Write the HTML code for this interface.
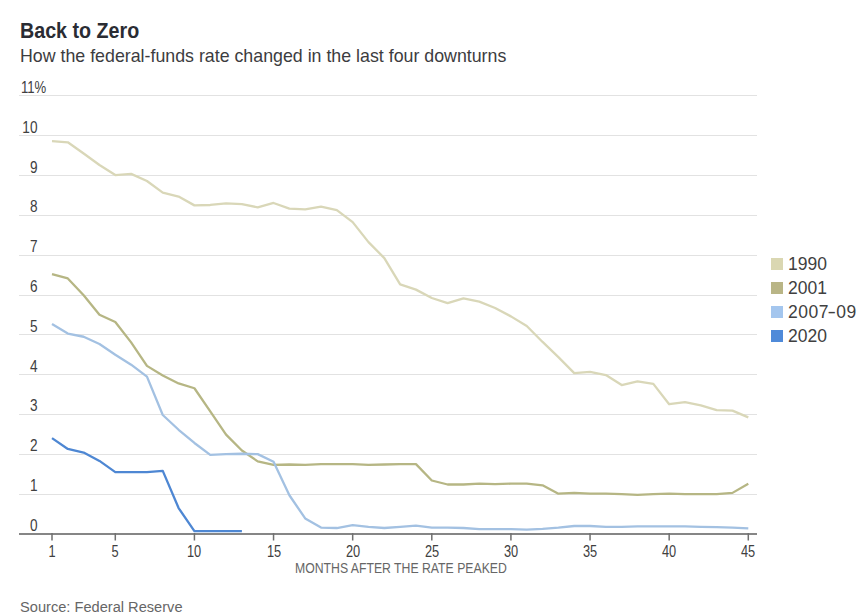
<!DOCTYPE html>
<html><head><meta charset="utf-8">
<style>
html,body{margin:0;padding:0;background:#fff;}
body{width:868px;height:613px;position:relative;overflow:hidden;font-family:"Liberation Sans",sans-serif;}
.t{position:absolute;white-space:nowrap;}
#title{left:20px;top:18.5px;font-size:21.5px;font-weight:bold;color:#2a2c33;transform:scaleX(0.915);transform-origin:0 0;}
#sub{left:20px;top:46px;font-size:17.8px;color:#3c3c40;transform-origin:0 0;}
.yl{position:absolute;left:0px;width:37.5px;text-align:right;font-size:16px;color:#404040;line-height:17px;transform:scaleX(0.85);transform-origin:37.5px 0;}
.pc{position:absolute;left:37.5px;top:0;display:inline-block;transform:scaleX(0.75);transform-origin:0 0;}
.xl{position:absolute;top:542.5px;width:60px;text-align:center;font-size:16px;color:#404040;line-height:17px;transform:scaleX(0.8);}
#mlab{left:295px;top:558.5px;font-size:15.5px;color:#666;transform-origin:0 0;transform:scaleX(0.79);}
#src{left:20px;top:597.5px;font-size:15.4px;color:#666;transform-origin:0 0;transform:scaleX(0.95);}
.lg{position:absolute;left:771px;width:12px;height:12px;}
.lt{position:absolute;left:788px;font-size:17.5px;color:#404040;line-height:20px;}
svg{position:absolute;left:0;top:0;}
</style></head><body>
<svg width="868" height="613" viewBox="0 0 868 613">
<rect x="19" y="494" width="738" height="1" fill="#e2e2e2"/><rect x="19" y="454" width="738" height="1" fill="#e2e2e2"/><rect x="19" y="414" width="738" height="1" fill="#e2e2e2"/><rect x="19" y="374" width="738" height="1" fill="#e2e2e2"/><rect x="19" y="334" width="738" height="1" fill="#e2e2e2"/><rect x="19" y="295" width="738" height="1" fill="#e2e2e2"/><rect x="19" y="255" width="738" height="1" fill="#e2e2e2"/><rect x="19" y="215" width="738" height="1" fill="#e2e2e2"/><rect x="19" y="175" width="738" height="1" fill="#e2e2e2"/><rect x="19" y="135" width="738" height="1" fill="#e2e2e2"/><rect x="19" y="95" width="738" height="1" fill="#e2e2e2"/>
<rect x="19" y="533" width="738" height="2" fill="#868686"/>
<rect x="51.25" y="533" width="1.5" height="7.5" fill="#707070"/><rect x="114.55" y="533" width="1.5" height="7.5" fill="#707070"/><rect x="193.67" y="533" width="1.5" height="7.5" fill="#707070"/><rect x="272.80" y="533" width="1.5" height="7.5" fill="#707070"/><rect x="351.93" y="533" width="1.5" height="7.5" fill="#707070"/><rect x="431.05" y="533" width="1.5" height="7.5" fill="#707070"/><rect x="510.17" y="533" width="1.5" height="7.5" fill="#707070"/><rect x="589.30" y="533" width="1.5" height="7.5" fill="#707070"/><rect x="668.42" y="533" width="1.5" height="7.5" fill="#707070"/><rect x="747.55" y="533" width="1.5" height="7.5" fill="#707070"/>
<g fill="none" stroke-width="2.3" stroke-linejoin="round" stroke-linecap="butt">
<polyline stroke="#d9d7b8" points="52.00,141.09 67.83,142.29 83.65,153.47 99.47,165.05 115.30,175.03 131.12,173.83 146.95,181.02 162.77,192.60 178.60,196.59 194.42,205.38 210.25,204.98 226.07,203.38 241.90,204.18 257.73,207.37 273.55,202.98 289.38,208.57 305.20,209.37 321.02,206.57 336.85,210.17 352.68,222.15 368.50,242.11 384.32,258.08 400.15,284.44 415.97,289.63 431.80,298.01 447.62,303.20 463.45,298.41 479.27,301.61 495.10,308.00 510.92,316.38 526.75,325.96 542.58,341.94 558.40,357.11 574.23,373.08 590.05,371.88 605.88,375.08 621.70,385.06 637.52,381.47 653.35,383.86 669.17,404.23 685.00,402.23 700.82,405.43 716.65,410.22 732.48,410.62 748.30,417.40"/>
<polyline stroke="#b6b684" points="52.00,274.06 67.83,278.45 83.65,295.22 99.47,314.78 115.30,321.97 131.12,342.34 146.95,365.89 162.77,375.48 178.60,383.46 194.42,388.26 210.25,411.41 226.07,434.57 241.90,450.55 257.73,461.33 273.55,464.92 289.38,464.52 305.20,464.92 321.02,464.12 336.85,464.12 352.68,464.12 368.50,464.92 384.32,464.52 400.15,464.12 415.97,464.12 431.80,480.49 447.62,484.49 463.45,484.49 479.27,483.69 495.10,484.09 510.92,483.69 526.75,483.69 542.58,485.29 558.40,493.67 574.23,492.87 590.05,493.67 605.88,493.67 621.70,494.07 637.52,494.87 653.35,494.07 669.17,493.67 685.00,494.07 700.82,494.07 716.65,494.07 732.48,492.87 748.30,483.69"/>
<polyline stroke="#a3c1e2" points="52.00,323.97 67.83,333.55 83.65,336.75 99.47,343.93 115.30,354.71 131.12,364.70 146.95,376.68 162.77,415.01 178.60,429.78 194.42,442.96 210.25,454.94 226.07,454.14 241.90,453.74 257.73,454.14 273.55,461.73 289.38,495.27 305.20,518.43 321.02,527.61 336.85,528.01 352.68,525.22 368.50,526.81 384.32,528.01 400.15,526.81 415.97,525.61 431.80,527.61 447.62,527.61 463.45,528.01 479.27,529.21 495.10,529.21 510.92,529.21 526.75,529.61 542.58,528.81 558.40,527.61 574.23,526.01 590.05,526.01 605.88,526.81 621.70,526.81 637.52,526.41 653.35,526.41 669.17,526.41 685.00,526.41 700.82,526.81 716.65,527.21 732.48,527.61 748.30,528.41"/>
<polyline stroke="#4e87d3" points="52.00,438.17 67.83,448.95 83.65,452.54 99.47,460.93 115.30,472.11 131.12,472.11 146.95,472.11 162.77,470.91 178.60,508.05 194.42,531.20 210.25,531.20 226.07,531.20 241.90,531.20"/>
</g>
</svg>
<div class="t" id="title">Back to Zero</div>
<div class="t" id="sub">How the federal-funds rate changed in the last four downturns</div>
<div class="yl" style="top:516.7px">0</div><div class="yl" style="top:476.9px">1</div><div class="yl" style="top:437.1px">2</div><div class="yl" style="top:397.3px">3</div><div class="yl" style="top:357.5px">4</div><div class="yl" style="top:317.8px">5</div><div class="yl" style="top:278.0px">6</div><div class="yl" style="top:238.2px">7</div><div class="yl" style="top:198.4px">8</div><div class="yl" style="top:158.6px">9</div><div class="yl" style="top:118.8px">10</div><div class="yl" style="top:79.0px;left:21px;width:auto;text-align:left;transform:scaleX(0.82);transform-origin:0 0;">11%</div>
<div class="xl" style="left:22.0px">1</div><div class="xl" style="left:85.3px">5</div><div class="xl" style="left:164.4px">10</div><div class="xl" style="left:243.5px">15</div><div class="xl" style="left:322.7px">20</div><div class="xl" style="left:401.8px">25</div><div class="xl" style="left:480.9px">30</div><div class="xl" style="left:560.0px">35</div><div class="xl" style="left:639.2px">40</div><div class="xl" style="left:718.3px">45</div>
<div class="t" id="mlab">MONTHS AFTER THE RATE PEAKED</div>
<div class="t" id="src">Source: Federal Reserve</div>
<div class="lg" style="top:258px;background:#dad7b2"></div>
<div class="lg" style="top:282px;background:#b9b586"></div>
<div class="lg" style="top:306px;background:#a4c6ee"></div>
<div class="lg" style="top:330px;background:#4f8ad9"></div>
<div class="lt" style="top:254px">1990</div>
<div class="lt" style="top:278px">2001</div>
<div class="lt" style="top:302px;letter-spacing:0.5px">2007<span style="display:inline-block;transform:scaleX(1.45);margin:0 0.5px">-</span>09</div>
<div class="lt" style="top:326px">2020</div>
</body></html>
